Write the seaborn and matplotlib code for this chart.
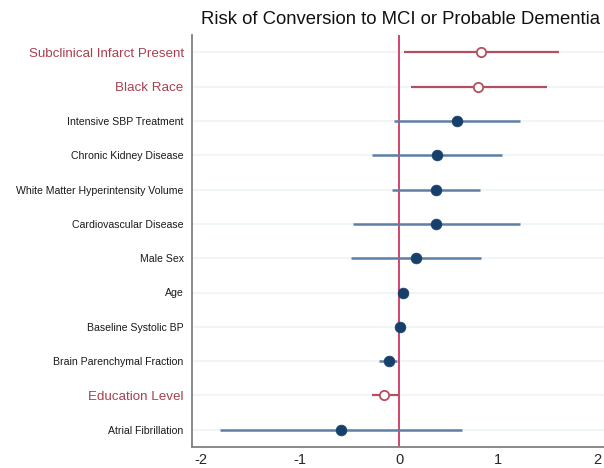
import matplotlib
matplotlib.use("Agg")
import matplotlib.pyplot as plt
import seaborn as sns
import pandas as pd

labels = [
    "Subclinical Infarct Present",
    "Black Race",
    "Intensive SBP Treatment",
    "Chronic Kidney Disease",
    "White Matter Hyperintensity Volume",
    "Cardiovascular Disease",
    "Male Sex",
    "Age",
    "Baseline Systolic BP",
    "Brain Parenchymal Fraction",
    "Education Level",
    "Atrial Fibrillation",
]
estimate = [0.83, 0.80, 0.58, 0.38, 0.37, 0.37, 0.17, 0.04, 0.01, -0.10, -0.15, -0.59]
ci_low = [0.05, 0.12, -0.05, -0.28, -0.07, -0.47, -0.49, 0.02, 0.00, -0.20, -0.28, -1.81]
ci_high = [1.62, 1.49, 1.22, 1.04, 0.82, 1.22, 0.83, 0.06, 0.02, -0.02, 0.00, 0.63]
highlight = [True, True, False, False, False, False, False, False, False, False, True, False]
xticks = [-2, -1, 0, 1, 2]

df = pd.DataFrame({
    "label": labels,
    "pos": range(len(labels)),
    "est": estimate,
    "lo": ci_low,
    "hi": ci_high,
    "hl": highlight,
})

sns.set_style("white")
plt.rcParams["font.family"] = ["Liberation Sans", "DejaVu Sans"]

RED = "#b4505e"
RED_TXT = "#a8404f"
BLUE_LINE = "#5e7fa6"
BLUE_DOT = "#173f6b"
ZERO = "#d4446e"

fig = plt.figure(figsize=(6.04, 4.68), dpi=100)
ax = fig.add_axes([0.318, 0.045, 0.682, 0.88])

# light horizontal guides for each row
for p in df["pos"]:
    ax.axhline(p, color="#edf3f4", lw=1.2, zorder=0)

ax.axvline(0, color=ZERO, lw=1.4, zorder=1)

plain = df[~df["hl"]]
hl = df[df["hl"]]

ax.hlines(plain["pos"], plain["lo"], plain["hi"], color=BLUE_LINE, lw=1.8, zorder=2)
ax.hlines(hl["pos"], hl["lo"], hl["hi"], color=RED, lw=1.6, zorder=2)

sns.scatterplot(data=plain, x="est", y="pos", ax=ax, color=BLUE_DOT, s=60,
                edgecolor=BLUE_DOT, linewidth=0.5, zorder=3, legend=False)
sns.scatterplot(data=hl, x="est", y="pos", ax=ax, facecolor="white", s=45,
                edgecolor=RED, linewidth=1.3, zorder=3, legend=False)

ax.set_xlim(-2.094, 2.07)
ax.set_ylim(11.5, -0.5)
ax.set_xticks(xticks)
ax.set_xticklabels([str(t) for t in xticks], fontsize=10.5)
ax.set_yticks(df["pos"])
ax.set_yticklabels(labels)
for tl, h in zip(ax.get_yticklabels(), highlight):
    if h:
        tl.set_color(RED_TXT)
        tl.set_fontsize(9.6)
    else:
        tl.set_fontsize(7.6)
        tl.set_color("#1a1a1a")

ax.set_xlabel("")
ax.set_ylabel("")
ax.tick_params(axis="y", length=4, width=0.8, color="#999999", direction="out", pad=2)
ax.tick_params(axis="x", length=3.5, width=0.8, color="#999999", direction="out", pad=1)

for side in ["top", "right"]:
    ax.spines[side].set_visible(False)
for side in ["left", "bottom"]:
    ax.spines[side].set_color("#808080")
    ax.spines[side].set_linewidth(1.3)

fig.text(0.663, 0.958, "Risk of Conversion to MCI or Probable Dementia",
         ha="center", va="center", fontsize=13.3, color="#111111")

fig.savefig("out.png", dpi=100)
